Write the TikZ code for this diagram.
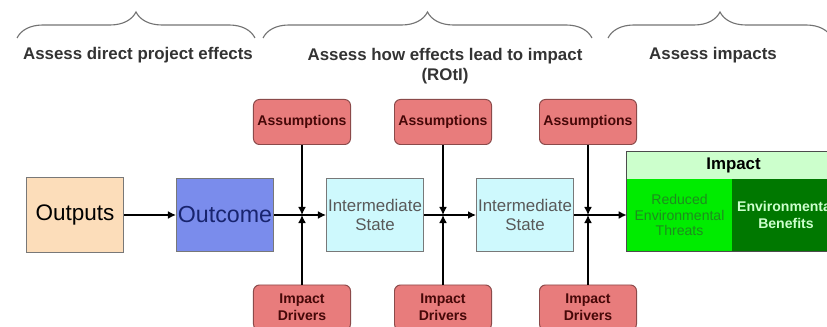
\documentclass[tikz,border=0pt]{standalone}
\usepackage{fontspec}
\setmainfont{Liberation Sans}
\usepackage{xcolor}
\usetikzlibrary{arrows.meta,decorations.pathreplacing}

\definecolor{peach}{RGB}{252,221,186}
\definecolor{outblue}{RGB}{122,140,236}
\definecolor{navy}{RGB}{24,36,110}
\definecolor{paleblue}{RGB}{206,249,253}
\definecolor{salmon}{RGB}{232,124,124}
\definecolor{darkred}{RGB}{70,8,8}
\definecolor{palegreen}{RGB}{204,255,204}
\definecolor{brightgreen}{RGB}{0,236,0}
\definecolor{midgreen}{RGB}{30,140,30}
\definecolor{darkgreen}{RGB}{0,120,0}
\definecolor{boxline}{RGB}{120,120,120}

\begin{document}
\begin{tikzpicture}[x=0.025cm,y=-0.025cm]
		 %\draw[help lines] (0,0) grid (827,327);
		 \tikzset{
		 box/.style 		= {draw=boxline, line width=0.7pt, inner sep=0pt, align=center,
		 					   minimum width=2.425cm, minimum height=1.8cm},
		 pill/.style 		= {box, fill=salmon, draw=salmon!60!black, rounded corners=0.15cm,
		 					   minimum height=1.125cm, text=darkred, font=\bfseries\fontsize{10}{12}\selectfont},
		 title/.style 		= {align=center, text=black!80, font=\bfseries\fontsize{12}{14.4}\selectfont},
		 arr/.style 		= {line width=1.6pt, -{Latex[length=2mm,width=2mm]}},
		 brace/.style 		= {decorate, decoration={brace, amplitude=0.65cm}, draw=black!55, line width=0.8pt}}
		 
		 \useasboundingbox (0,0) rectangle (827,327);
		 \clip (0,0) rectangle (827,327);
		 
		 % headings
		 \draw[brace] (17,38) -- (255,38);
		 \draw[brace] (263,38) -- (592,38);
		 \draw[brace] (608,38) -- (832,38);
		 \node[title] (t1) at (138,55) {Assess direct project effects};
		 \node[title] (t2) at (445,66) {Assess how effects lead to impact\\(ROtI)};
		 \node[title] (t3) at (713,55) {Assess impacts};
		 
		 % chain
		 \node[box, fill=peach, minimum height=1.85cm, font=\fontsize{16}{19}\selectfont] (out) at (75,215) {Outputs};
		 \node[box, fill=outblue, text=navy, font=\fontsize{16.5}{19}\selectfont] (oc) at (225,215) {Outcome};
		 \node[box, fill=paleblue, text=black!65, font=\fontsize{12}{14}\selectfont] (is1) at (375,215) {Intermediate\\State};
		 \node[box, fill=paleblue, text=black!65, font=\fontsize{12}{14}\selectfont] (is2) at (525,215) {Intermediate\\State};
		 
		 % impact
		 \node[inner sep=0pt, fill=palegreen, minimum width=5.325cm, minimum height=0.675cm,
		 	   font=\bfseries\fontsize{12}{14}\selectfont] (imp) at (733.5,165.5) {Impact};
		 \node[inner sep=0pt, fill=brightgreen, minimum width=2.625cm, minimum height=1.8cm, align=center,
		 	   text=midgreen, font=\fontsize{10}{11}\selectfont] (red) at (679.5,215) {Reduced\\Environmental\\Threats};
		 \node[inner sep=0pt, fill=darkgreen, minimum width=2.7cm, minimum height=1.8cm, align=center,
		 	   text=palegreen, font=\bfseries\fontsize{10}{12}\selectfont] (ben) at (786,215) {Environmental\\Benefits};
		 \draw[black!70, line width=0.9pt] (imp.north west) rectangle (ben.south east);
		 
		 % assumptions and drivers
		 \node[pill] (a1) at (302,122) {Assumptions};
		 \node[pill] (a2) at (443,122) {Assumptions};
		 \node[pill] (a3) at (588,122) {Assumptions};
		 \node[pill] (d1) at (302,307.5) {Impact\\Drivers};
		 \node[pill] (d2) at (443,307.5) {Impact\\Drivers};
		 \node[pill] (d3) at (588,307.5) {Impact\\Drivers};
		 \coordinate (j1) at (302,215);
		 \coordinate (j2) at (443,215);
		 \coordinate (j3) at (588,215);
		 
		 \draw[arr] (out) -- (oc);
		 \draw[arr] (oc) -- (is1);
		 \draw[arr] (is1) -- (is2);
		 \draw[arr] (is2) -- (red);
		 \draw[arr] (a1) -- (j1);
		 \draw[arr] (d1) -- (j1);
		 \draw[arr] (a2) -- (j2);
		 \draw[arr] (d2) -- (j2);
		 \draw[arr] (a3) -- (j3);
		 \draw[arr] (d3) -- (j3);
		 \end{tikzpicture}
\end{document}
